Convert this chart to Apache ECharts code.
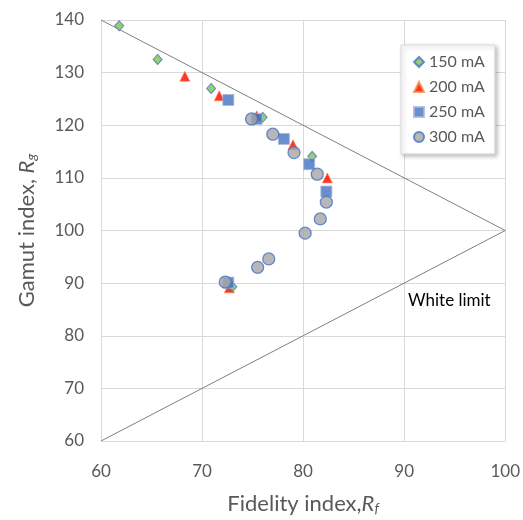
<!DOCTYPE html>
<html><head><meta charset="utf-8">
<script src="https://cdn.jsdelivr.net/npm/echarts@6/dist/echarts.min.js"></script>
<style>html,body{margin:0;padding:0;background:#fff}#c{width:523px;height:520px}</style>
</head><body><div id="c"></div>
<script>
const xTicks = [60, 70, 80, 90, 100];
const yTicks = [60, 70, 80, 90, 100, 110, 120, 130, 140];
const seriesNames = ['150 mA', '200 mA', '250 mA', '300 mA'];
const s150 = [[61.8,138.9],[65.6,132.5],[70.9,127.0],[76.0,121.5],[80.9,114.1],[73.0,89.3]];
const s200 = [[68.3,129.3],[71.7,125.6],[75.4,121.8],[79.0,116.3],[82.4,110.0],[72.7,89.1]];
const s250 = [[72.6,124.8],[75.4,121.2],[78.1,117.4],[80.6,112.6],[82.3,107.4],[72.6,90.1]];
const s300 = [[74.9,121.2],[77.0,118.3],[79.1,114.8],[81.4,110.7],[82.3,105.4],[81.7,102.2],[80.2,99.5],[76.6,94.6],[75.5,93.0],[72.3,90.2]];
const whiteLimit = [[60,140],[100,100],[60,60]];
const whiteLimitLabel = 'White limit';

const font = 'Lato, "Open Sans", sans-serif';
const chart = echarts.init(document.getElementById('c'), null, {renderer:'canvas'});
chart.setOption({
  animation:false,
  backgroundColor:'#fff',
  grid:{left:101, right:15, top:20, bottom:78, containLabel:false},
  xAxis:{type:'value', min:xTicks[0], max:xTicks[xTicks.length-1], interval:10,
    axisLine:{show:false}, axisTick:{show:false},
    splitLine:{lineStyle:{color:'#d9d9d9', width:1}},
    axisLabel:{color:'#595959', fontSize:17, fontFamily:font, margin:22},
    name:'{t|Fidelity index,}{i|R}{s|f}', nameLocation:'middle', nameGap:51,
    nameTextStyle:{rich:{t:{fontSize:22,color:'#595959',fontFamily:font},
      i:{fontSize:22,color:'#595959',fontFamily:font,fontStyle:'italic'},
      s:{fontSize:14,color:'#595959',fontFamily:font,fontStyle:'italic',padding:[9,0,0,0]}}}
  },
  yAxis:{type:'value', min:yTicks[0], max:yTicks[yTicks.length-1], interval:10,
    axisLine:{show:true, lineStyle:{color:'#d9d9d9'}}, axisTick:{show:false},
    splitLine:{lineStyle:{color:'#d9d9d9', width:1}},
    axisLabel:{color:'#595959', fontSize:17, fontFamily:font, margin:17},
    name:'{t|Gamut index, }{i|R}{s|g}', nameLocation:'middle', nameGap:63, nameRotate:90,
    nameTextStyle:{rich:{t:{fontSize:22,color:'#595959',fontFamily:font},
      i:{fontSize:22,color:'#595959',fontFamily:font,fontStyle:'italic'},
      s:{fontSize:14,color:'#595959',fontFamily:font,fontStyle:'italic',padding:[9,0,0,0]}}}
  },
  legend:{orient:'vertical', left:401, top:45, width:96,
    backgroundColor:'#fff', borderColor:'#d9d9d9', borderWidth:1,
    shadowColor:'rgba(0,0,0,0.25)', shadowBlur:4, shadowOffsetX:2, shadowOffsetY:2,
    padding:[9,10,9,12], itemGap:9, itemWidth:10, itemHeight:10,
    textStyle:{color:'#595959', fontSize:16, fontFamily:font},
    data:seriesNames},
  graphic:[{type:'text', left:408, top:292, style:{text:whiteLimitLabel, fill:'#000', fontSize:17, fontFamily:font}}],
  series:[
    {type:'line', data:whiteLimit, symbol:'none', silent:true, lineStyle:{color:'#7f7f7f', width:1}, z:1},
    {name:seriesNames[0], type:'scatter', data:s150, symbol:'diamond', symbolSize:[9,10],
      itemStyle:{color:'#7ec34a', borderColor:'#4472c4', borderWidth:1}, z:5},
    {name:seriesNames[1], type:'scatter', data:s200, symbol:'triangle', symbolSize:[10,10],
      itemStyle:{color:'#ff0000', borderColor:'#ff8c40', borderWidth:0.8}, z:4},
    {name:seriesNames[2], type:'scatter', data:s250, symbol:'rect', symbolSize:11,
      itemStyle:{color:'#4472c4', borderColor:'#a9b8d6', borderWidth:1}, z:6},
    {name:seriesNames[3], type:'scatter', data:s300, symbol:'circle', symbolSize:12,
      itemStyle:{color:'#a5a5a5', borderColor:'#4472c4', borderWidth:1.3}, z:7}
  ]
});
</script></body></html>
